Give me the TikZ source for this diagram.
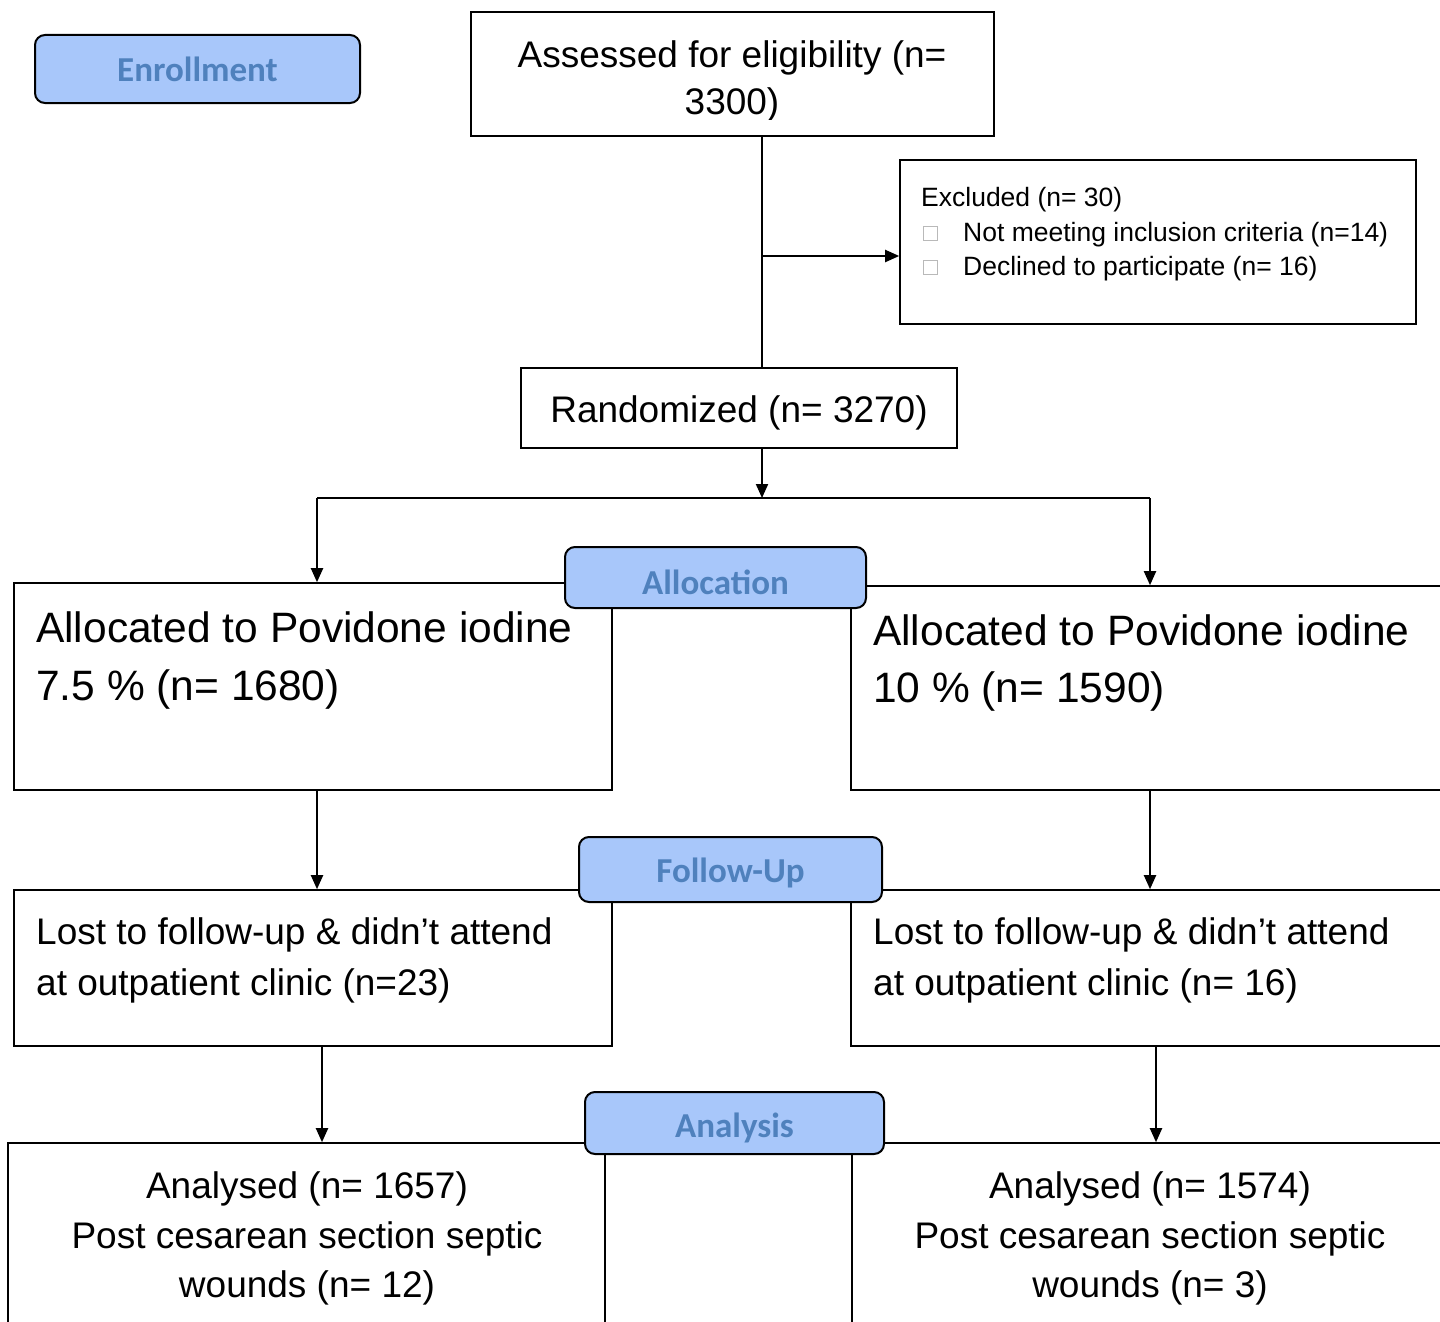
\documentclass[tikz,border=0pt]{standalone}
\usepackage{fontspec}
\setmainfont{Liberation Sans}
\newfontfamily\labfont{Carlito}
\usetikzlibrary{arrows.meta}
\definecolor{labfill}{RGB}{168,199,250}
\definecolor{labtext}{RGB}{79,129,189}
\definecolor{sqgray}{RGB}{185,185,185}
\newcommand{\sqmark}{{\color{sqgray}\fboxsep=0pt\fboxrule=1pt\fbox{\rule{0pt}{13pt}\hspace{13pt}}}}
\begin{document}
\begin{tikzpicture}[x=1pt,y=-1pt,
  box/.style={draw, line width=1.6pt, inner sep=0pt},
  lab/.style={draw, line width=2pt, fill=labfill, rounded corners=10pt, inner sep=0pt,
    font=\labfont\bfseries\fontsize{35}{40}\selectfont, text=labtext},
  txtB/.style={inner sep=0pt, font=\fontsize{37}{44}\selectfont},
  txtH/.style={inner sep=0pt, font=\fontsize{42.5}{50}\selectfont},
  txtS/.style={inner sep=0pt, font=\fontsize{26.5}{32}\selectfont},
  conn/.style={line width=2pt},
  arr/.style={conn, -{Triangle[length=14pt,width=12pt]}},
]
\useasboundingbox (0,0) rectangle (1440,1322);
\clip (0,0) rectangle (1440,1322);
\fill[white] (0,0) rectangle (1440,1322);

% boxes
\node[box, minimum width=523pt, minimum height=124pt] (assess) at (732.5,74) {};
\node[box, minimum width=516pt, minimum height=164pt] (excl) at (1158,242) {};
\node[box, minimum width=436pt, minimum height=80pt] (rand) at (739,408) {};
\node[box, minimum width=598pt, minimum height=207pt] (allocL) at (313,686.5) {};
\node[box, minimum width=598pt, minimum height=204pt] (allocR) at (1150,688) {};
\node[box, minimum width=598pt, minimum height=156pt] (lostL) at (313,968) {};
\node[box, minimum width=598pt, minimum height=156pt] (lostR) at (1150,968) {};
\node[box, minimum width=597pt, minimum height=200pt] (anaL) at (306.5,1243) {};
\node[box, minimum width=597pt, minimum height=200pt] (anaR) at (1150.5,1243) {};

% texts
\begin{scope}
\clip (471,12) rectangle (994,119);
\node[txtB, anchor=base] (as1) at (732,67) {Assessed for eligibility (n=};
\node[txtB, anchor=base] (as2) at (732,114) {3300)};
\end{scope}
\node[txtS, anchor=base west] (ex1) at (921,206) {Excluded (n= 30)};
\node[txtS, anchor=base west] (ex2b) at (923,240) {\sqmark};
\node[txtS, anchor=base west] (ex2) at (963,241) {Not meeting inclusion criteria (n=14)};
\node[txtS, anchor=base west] (ex3b) at (923,274) {\sqmark};
\node[txtS, anchor=base west] (ex3) at (963,275) {Declined to participate (n= 16)};
\node[txtB, anchor=base] (rt) at (739,422) {Randomized (n= 3270)};
\node[txtH, anchor=base west] (al1) at (36,642) {Allocated to Povidone iodine};
\node[txtH, anchor=base west] (al2) at (36,700) {7.5 \% (n= 1680)};
\node[txtH, anchor=base west] (ar1) at (873,645) {Allocated to Povidone iodine};
\node[txtH, anchor=base west] (ar2) at (873,702) {10 \% (n= 1590)};
\node[txtB, anchor=base west] (ll1) at (36,944) {Lost to follow-up \& didn’t attend};
\node[txtB, anchor=base west] (ll2) at (36,995) {at outpatient clinic (n=23)};
\node[txtB, anchor=base west] (lr1) at (873,944) {Lost to follow-up \& didn’t attend};
\node[txtB, anchor=base west] (lr2) at (873,995) {at outpatient clinic (n= 16)};
\node[txtB, anchor=base] (nl1) at (307,1198) {Analysed (n= 1657)};
\node[txtB, anchor=base] (nl2) at (307,1248) {Post cesarean section septic};
\node[txtB, anchor=base] (nl3) at (307,1297) {wounds (n= 12)};
\node[txtB, anchor=base] (nr1) at (1150,1198) {Analysed (n= 1574)};
\node[txtB, anchor=base] (nr2) at (1150,1248) {Post cesarean section septic};
\node[txtB, anchor=base] (nr3) at (1150,1297) {wounds (n= 3)};

% connectors
\coordinate (trunk) at (762,0);
\coordinate (exj) at (762,256);
\coordinate (split) at (762,498);
\coordinate (colL) at (317,0);
\coordinate (colR) at (1150,0);
\coordinate (colL2) at (322,0);
\coordinate (colR2) at (1156,0);
\draw[conn] (trunk |- assess.south) -- (trunk |- rand.north);
\draw[arr] (exj) -- (exj -| excl.west);
\draw[arr] (trunk |- rand.south) -- (split);
\draw[conn] (split -| colL) -- (split -| colR);
\draw[arr] (split -| colL) -- (colL |- allocL.north);
\draw[arr] (split -| colR) -- (colR |- allocR.north);
\draw[arr] (colL |- allocL.south) -- (colL |- lostL.north);
\draw[arr] (colR |- allocR.south) -- (colR |- lostR.north);
\draw[arr] (colL2 |- lostL.south) -- (colL2 |- anaL.north);
\draw[arr] (colR2 |- lostR.south) -- (colR2 |- anaR.north);

% stage labels
\node[lab, minimum width=325pt, minimum height=68pt] (enr) at (197.5,69) {Enrollment};
\node[lab, minimum width=301pt, minimum height=61pt, text height=33.5pt, text depth=0pt] (allocLab) at (715.5,577.5) {Allocation};
\node[lab, minimum width=303pt, minimum height=65pt, text height=25.5pt, text depth=0pt] (fuLab) at (730.5,869.5) {Follow-Up};
\node[lab, minimum width=299pt, minimum height=62pt, text height=29.5pt, text depth=0pt] (anaLab) at (734.5,1123) {Analysis};
\end{tikzpicture}
\end{document}
